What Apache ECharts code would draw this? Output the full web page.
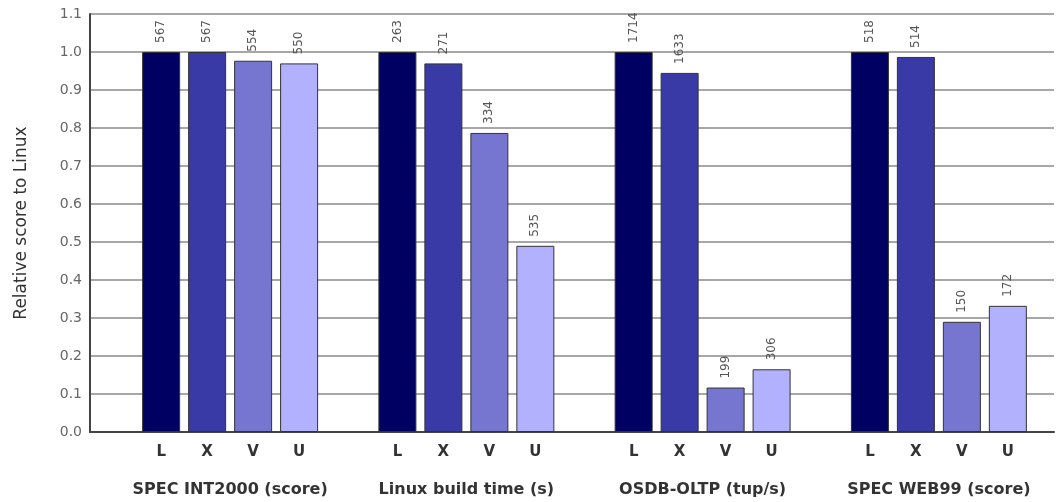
<!DOCTYPE html>
<html>
<head>
<meta charset="utf-8">
<script src="https://cdn.jsdelivr.net/npm/echarts@6/dist/echarts.min.js"></script>
<style>
    html, body { margin: 0; padding: 0; background: #fff; }
    #chart { width: 1057px; height: 502px; }
</style>
</head>
<body>
<div id="chart"></div>
<script>
// benchmark groups
var groups = ['SPEC INT2000 (score)', 'Linux build time (s)', 'OSDB-OLTP (tup/s)', 'SPEC WEB99 (score)'];
var systems = ['L', 'X', 'V', 'U'];
var colors = ['#000062', '#3a3aa7', '#7676d1', '#b1b1fd'];

// relative score to Linux, one array per system
var scoreL = [1.0, 1.0, 1.0, 1.0];
var scoreX = [1.0, 0.97, 0.945, 0.987];
var scoreV = [0.977, 0.787, 0.117, 0.29];
var scoreU = [0.97, 0.49, 0.165, 0.332];

// raw numbers printed above the bars
var rawL = [567, 263, 1714, 518];
var rawX = [567, 271, 1633, 514];
var rawV = [554, 334, 199, 150];
var rawU = [550, 535, 306, 172];

var yTicks = { min: 0, max: 1.1, interval: 0.1 };

var scores = [scoreL, scoreX, scoreV, scoreU];
var raws = [rawL, rawX, rawV, rawU];
var font = 'DejaVu Sans';

var myChart = echarts.init(document.getElementById('chart'));

var series = [];
for (var i = 0; i < systems.length; i++) {
    (function (i, name) {
        // zero height bar, only carries the L / X / V / U name under the bar
        series.push({
            name: name + '-name',
            type: 'bar',
            stack: name,
            xAxisIndex: 1,
            yAxisIndex: 1,
            barWidth: 38,
            barGap: '21%',
            data: groups.map(function () { return 0; }),
            itemStyle: { color: 'transparent', borderWidth: 0 },
            label: {
                show: true,
                position: 'bottom',
                distance: 13,
                formatter: name,
                fontFamily: font,
                fontSize: 15,
                fontWeight: 'bold',
                color: '#333'
            },
            silent: true
        });
        series.push({
            name: name,
            type: 'bar',
            stack: name,
            xAxisIndex: 1,
            yAxisIndex: 1,
            barWidth: 38,
            barGap: '21%',
            data: scores[i],
            itemStyle: { color: colors[i], borderColor: '#333', borderWidth: 1 },
            label: {
                show: true,
                position: 'top',
                rotate: 90,
                align: 'left',
                verticalAlign: 'middle',
                distance: 9,
                fontFamily: font,
                fontSize: 12,
                color: '#555',
                formatter: function (p) { return raws[i][p.dataIndex]; }
            }
        });
    }(i, systems[i]));
}

var option = {
    animation: false,
    grid: [
        { left: 90, right: 3, top: 14, bottom: 70 },
        { left: 112, right: -7, top: 14, bottom: 70 }
    ],
    xAxis: [
        {
            gridIndex: 0,
            type: 'category',
            data: [''],
            axisLine: { lineStyle: { color: '#444', width: 2 } },
            axisTick: { show: false },
            axisLabel: { show: false }
        },
        {
            gridIndex: 1,
            type: 'category',
            data: groups,
            axisLine: { show: false },
            axisTick: { show: false },
            axisLabel: {
                interval: 0,
                hideOverlap: false,
                margin: 50,
                fontFamily: font,
                fontSize: 16,
                fontWeight: 'bold',
                color: '#333'
            }
        }
    ],
    yAxis: [
        {
            gridIndex: 0,
            type: 'value',
            min: yTicks.min,
            max: yTicks.max,
            interval: yTicks.interval,
            name: 'Relative score to Linux',
            nameLocation: 'middle',
            nameGap: 60,
            nameTextStyle: { fontFamily: font, fontSize: 17, color: '#333' },
            axisLine: { show: true, lineStyle: { color: '#444', width: 2 } },
            axisTick: { show: false },
            axisLabel: {
                margin: 8,
                fontFamily: font,
                fontSize: 14,
                color: '#666',
                formatter: function (v) { return v.toFixed(1); }
            },
            splitLine: { lineStyle: { color: '#8a8a8a', width: 1.5 } }
        },
        {
            gridIndex: 1,
            type: 'value',
            min: yTicks.min,
            max: yTicks.max,
            interval: yTicks.interval,
            show: false
        }
    ],
    series: series
};

myChart.setOption(option, true);
</script>
</body>
</html>
